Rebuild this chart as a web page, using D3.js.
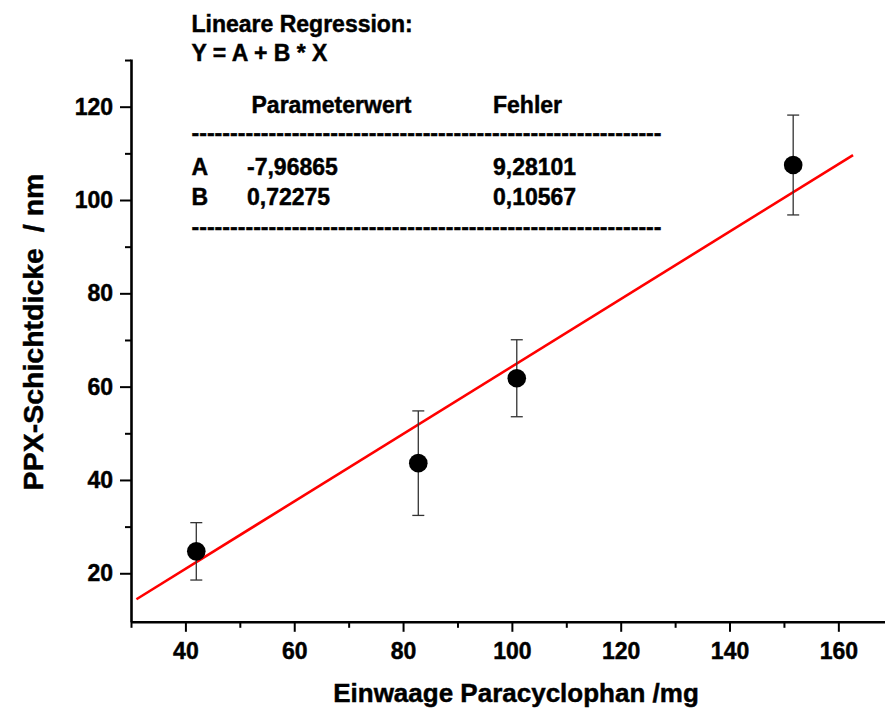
<!DOCTYPE html>
<html>
<head>
<meta charset="utf-8">
<script src="https://cdn.jsdelivr.net/npm/d3@7"></script>
<style>
  body { margin: 0; background: #fff; }
  text { font-family: "Liberation Sans", Arial, sans-serif; font-weight: bold; fill: #000; stroke: #000; stroke-width: 0.45px; }
</style>
</head>
<body>
<script>
// data
const einwaage = [42, 82.8, 100.9, 151.7];          // mg
const dicke    = [24.7, 43.6, 61.8, 107.5];          // nm
const fehler   = [6.15, 11.2, 8.25, 10.7];           // +/- nm

// fit Y = A + B * X
const A = -7.96865, B = 0.72275;
const fitRange = [31, 162.7];

const xMajor = [40, 60, 80, 100, 120, 140, 160];
const xMinor = [30, 50, 70, 90, 110, 130, 150];
const yMajor = [20, 40, 60, 80, 100, 120];
const yMinor = [10, 30, 50, 70, 90, 110, 130];

const legendRows = [
  ["A", "-7,96865", "9,28101"],
  ["B", "0,72275", "0,10567"]
];

const width = 885, height = 711;

const svg = d3.select("body").append("svg")
  .attr("width", width)
  .attr("height", height);

const x = d3.scaleLinear().domain([30, 168.5]).range([131, 884.6]);
const y = d3.scaleLinear().domain([9.6, 130.2]).range([621.8, 59.1]);

const xAxisY = y(9.6);
const yAxisX = x(30);

// minor ticks first
svg.append("g")
  .attr("transform", `translate(0,${xAxisY})`)
  .call(d3.axisBottom(x).tickValues(xMinor).tickSize(6).tickSizeOuter(0).tickFormat(""))
  .call(g => g.select(".domain").remove())
  .call(g => g.selectAll(".tick line").attr("stroke-width", 2));

svg.append("g")
  .attr("transform", `translate(${yAxisX},0)`)
  .call(d3.axisLeft(y).tickValues(yMinor.filter(v => v > 10)).tickSize(6).tickSizeOuter(0).tickFormat(""))
  .call(g => g.select(".domain").remove())
  .call(g => g.selectAll(".tick line").attr("stroke-width", 2));

const xAxis = svg.append("g")
  .attr("transform", `translate(0,${xAxisY})`)
  .call(d3.axisBottom(x).tickValues(xMajor).tickSize(10).tickPadding(11).tickSizeOuter(0));

const yAxis = svg.append("g")
  .attr("transform", `translate(${yAxisX},0)`)
  .call(d3.axisLeft(y).tickValues(yMajor).tickSize(11).tickPadding(7).tickSizeOuter(0));

[xAxis, yAxis].forEach(g => {
  g.select(".domain").attr("stroke-width", 2.6);
  g.selectAll(".tick line").attr("stroke-width", 2);
  g.selectAll(".tick text")
    .attr("font-size", 23)
    .attr("font-family", "'Liberation Sans', Arial, sans-serif")
    .attr("font-weight", "bold")
    .attr("fill", "#000");
});

// fit line
svg.append("line")
  .attr("x1", x(fitRange[0]))
  .attr("y1", y(A + B * fitRange[0]))
  .attr("x2", x(fitRange[1]))
  .attr("y2", y(A + B * fitRange[1]))
  .attr("stroke", "#ff0000")
  .attr("stroke-width", 2.6);

// error bars
const pts = einwaage.map((v, i) => ({x: v, y: dicke[i], e: fehler[i]}));

const bars = svg.selectAll(".err")
  .data(pts)
  .join("g")
  .attr("class", "err")
  .attr("stroke", "#333")
  .attr("stroke-width", 1.3);

bars.append("line")
  .attr("x1", d => x(d.x)).attr("x2", d => x(d.x))
  .attr("y1", d => y(d.y + d.e)).attr("y2", d => y(d.y - d.e));
bars.append("line")
  .attr("x1", d => x(d.x) - 6).attr("x2", d => x(d.x) + 6)
  .attr("y1", d => y(d.y + d.e)).attr("y2", d => y(d.y + d.e));
bars.append("line")
  .attr("x1", d => x(d.x) - 6).attr("x2", d => x(d.x) + 6)
  .attr("y1", d => y(d.y - d.e)).attr("y2", d => y(d.y - d.e));

svg.selectAll(".pt")
  .data(pts)
  .join("circle")
  .attr("class", "pt")
  .attr("cx", d => x(d.x))
  .attr("cy", d => y(d.y))
  .attr("r", 9.3)
  .attr("fill", "#000");

// axis titles
svg.append("text")
  .attr("x", 516)
  .attr("y", 702)
  .attr("text-anchor", "middle")
  .attr("font-size", 26)
  .text("Einwaage Paracyclophan /mg");

svg.append("text")
  .attr("transform", "translate(43,332) rotate(-90)")
  .attr("text-anchor", "middle")
  .attr("font-size", 28.5)
  .attr("xml:space", "preserve")
  .style("white-space", "pre")
  .text("PPX-Schichtdicke  / nm");

// regression box
const box = svg.append("g").attr("font-size", 23);
box.append("text").attr("x", 191.5).attr("y", 32).text("Lineare Regression:");
box.append("text").attr("x", 191.5).attr("y", 61).text("Y = A + B * X");
box.append("text").attr("x", 251.5).attr("y", 113).text("Parameterwert");
box.append("text").attr("x", 493).attr("y", 113).text("Fehler");

const dashes = "-".repeat(61);
[141, 235].forEach(yy => {
  box.append("text")
    .attr("x", 191.5).attr("y", yy)
    .attr("textLength", 470)
    .attr("lengthAdjust", "spacingAndGlyphs")
    .text(dashes);
});

legendRows.forEach((r, i) => {
  const yy = 175 + i * 30;
  box.append("text").attr("x", 191.5).attr("y", yy).text(r[0]);
  box.append("text").attr("x", 247).attr("y", yy).text(r[1]);
  box.append("text").attr("x", 493).attr("y", yy).text(r[2]);
});
</script>
</body>
</html>
